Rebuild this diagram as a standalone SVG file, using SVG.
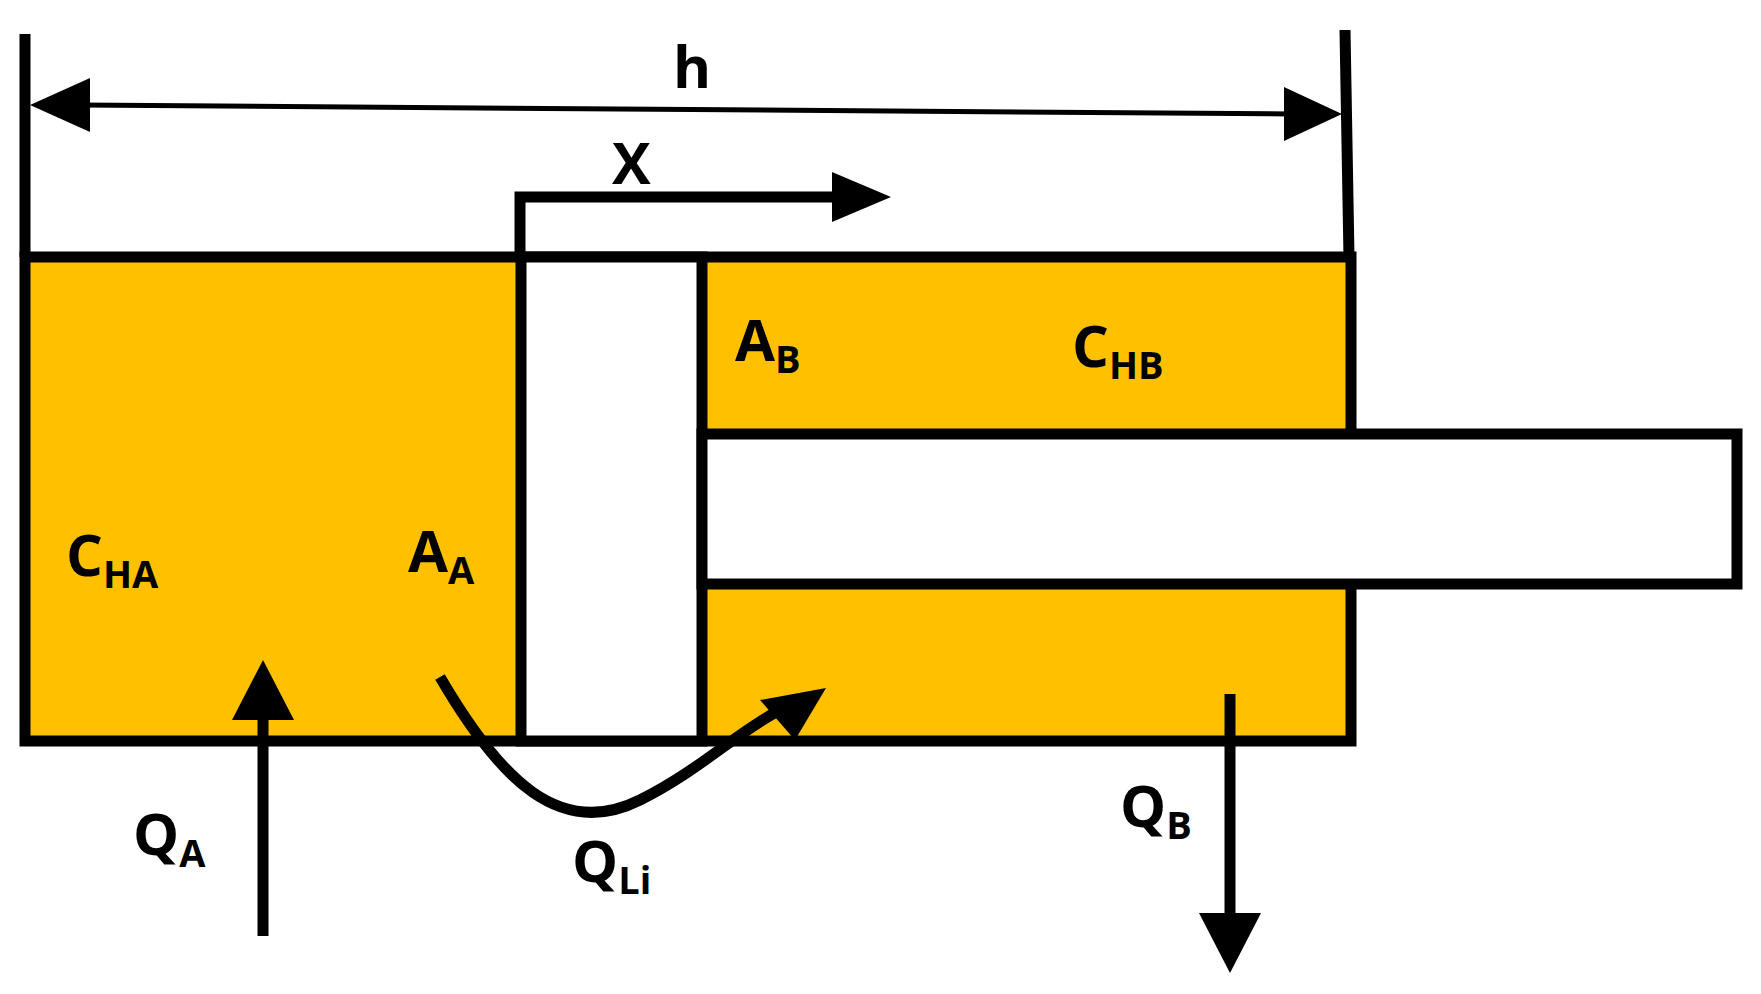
<svg xmlns="http://www.w3.org/2000/svg" width="1761" height="994" viewBox="0 0 1761 994">
<style>
.s{stroke:#000;stroke-width:11;fill:none}
.t{font-family:"Open Sans","Liberation Sans",sans-serif;font-weight:bold;font-size:58px;fill:#000}
.sub{font-size:38px}
</style>
<g id="cylinder">
<rect x="25" y="257" width="1326" height="484" fill="#FFC000" stroke="#000" stroke-width="11"/>
</g>
<g id="piston">
<rect x="521" y="257" width="181" height="484" fill="#fff" stroke="#000" stroke-width="11"/>
</g>
<g id="rod">
<rect x="702" y="434" width="1035" height="150" fill="#fff" stroke="#000" stroke-width="11"/>
</g>
<g id="connectors">
<line x1="25" y1="34" x2="25" y2="257" class="s"/>
<line x1="1345" y1="30" x2="1349" y2="257" class="s"/>
<line x1="80" y1="105" x2="1290" y2="114" stroke="#000" stroke-width="5"/>
<path d="M30,105L90,78L90,132z"/>
<path d="M1342,114L1284,87L1284,141z"/>
<path d="M520,257V197H840" class="s"/>
<path d="M832,172L891,197L832,222z"/>
<path d="M263,936V700" class="s"/>
<path d="M263,660L232,720L294,720z"/>
<path d="M1230,694V930" class="s"/>
<path d="M1230,973L1199,913L1261,913z"/>
<path d="M440,677C500,780 560,840 640,800C700,770 740,730 780,710" class="s"/>
<path d="M826,688L760,700L795,740z"/>
</g>
<g id="labels">
<text class="t" x="673" y="88">h</text>
<text class="t" x="612" y="184">X</text>
<text class="t" x="735" y="361">A<tspan class="sub" dy="12">B</tspan></text>
<text class="t" x="1072" y="367">C<tspan class="sub" dy="12">HB</tspan></text>
<text class="t" x="66" y="576">C<tspan class="sub" dy="12">HA</tspan></text>
<text class="t" x="408" y="572">A<tspan class="sub" dy="12">A</tspan></text>
<text class="t" x="133" y="855">Q<tspan class="sub" dy="12">A</tspan></text>
<text class="t" x="572" y="882">Q<tspan class="sub" dy="12">Li</tspan></text>
<text class="t" x="1120" y="827">Q<tspan class="sub" dy="12">B</tspan></text>
</g>
</svg>
